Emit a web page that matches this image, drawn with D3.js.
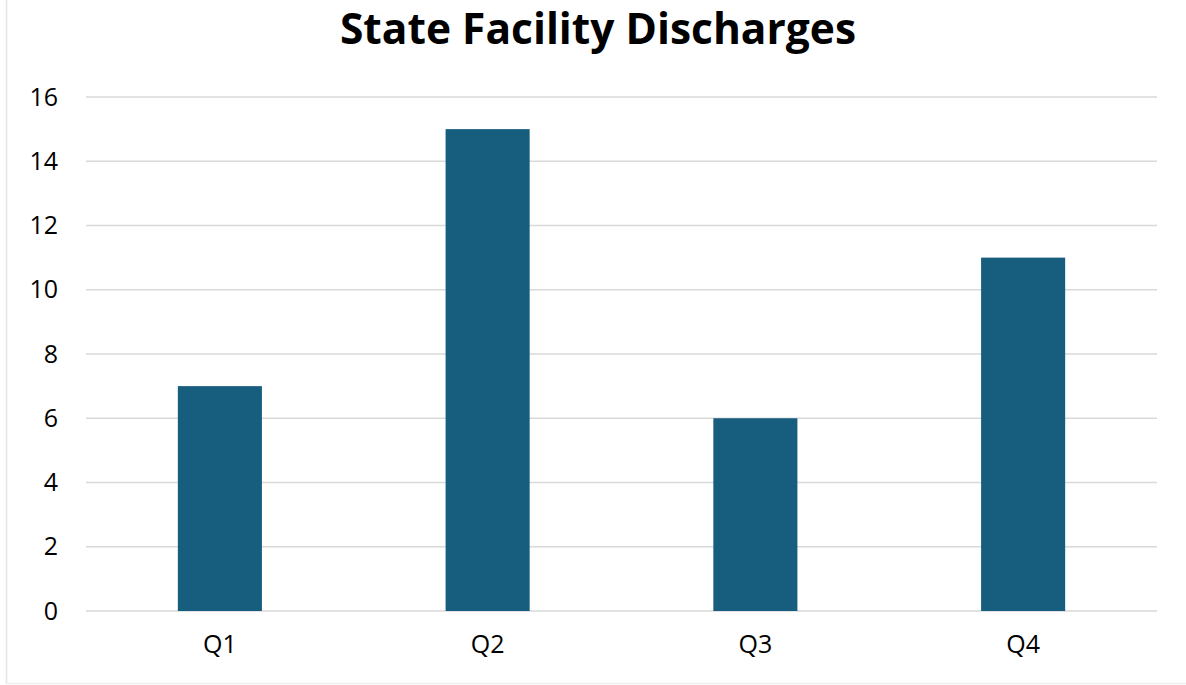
<!DOCTYPE html>
<html>
<head>
<meta charset="utf-8">
<script src="https://cdn.jsdelivr.net/npm/d3@7"></script>
<style>
  body { margin: 0; background: #fff; }
  text { font-family: "Open Sans", "Liberation Sans", Arial, sans-serif; }
</style>
</head>
<body>
<svg id="chart"></svg>
<script>
// Data
var quarters = ["Q1", "Q2", "Q3", "Q4"];
var discharges = [7, 15, 6, 11];
var yTicks = [0, 2, 4, 6, 8, 10, 12, 14, 16];
var chartTitle = "State Facility Discharges";

var W = 1186, H = 685;
var margin = {top: 97, right: 29, bottom: 74, left: 86};

var svg = d3.select("#chart")
            .attr("width", W)
            .attr("height", H);

// Frame lines on left and bottom
svg.append("line")
    .attr("x1", 6.5).attr("x2", 6.5).attr("y1", 0).attr("y2", 683)
    .attr("stroke", "#e4e4e4").attr("stroke-width", 1.5);
svg.append("line")
    .attr("x1", 6).attr("x2", W).attr("y1", 683.5).attr("y2", 683.5)
    .attr("stroke", "#eeeeee").attr("stroke-width", 1.5);

var g = svg.append("g")
           .attr("transform", "translate(" + margin.left + "," + margin.top + ")");

var width = W - margin.left - margin.right;
var height = H - margin.top - margin.bottom;

var xScale = d3.scaleBand()
               .domain(quarters)
               .range([0, width])
               .paddingInner(0.686)
               .paddingOuter(0.343);

var yScale = d3.scaleLinear()
               .domain([0, 16])
               .range([height, 0]);

// Gridlines
g.selectAll(".grid")
  .data(yTicks)
  .enter()
  .append("line")
  .attr("class", "grid")
  .attr("x1", 0)
  .attr("x2", width)
  .attr("y1", function(d) { return yScale(d); })
  .attr("y2", function(d) { return yScale(d); })
  .attr("stroke", "#d9d9d9")
  .attr("stroke-width", 1.5);

// Y axis labels
var yAxis = d3.axisLeft(yScale).tickValues(yTicks).tickSize(0).tickPadding(28);
g.append("g")
  .call(yAxis)
  .call(function(a) { a.select(".domain").remove(); })
  .selectAll("text")
  .attr("font-size", 25)
  .attr("font-family", "'Open Sans', sans-serif")
  .attr("fill", "#000");

// Bars
g.selectAll(".bar")
  .data(discharges)
  .enter()
  .append("rect")
  .attr("class", "bar")
  .attr("x", function(d, i) { return xScale(quarters[i]); })
  .attr("width", xScale.bandwidth())
  .attr("y", function(d) { return yScale(d); })
  .attr("height", function(d) { return height - yScale(d); })
  .attr("fill", "#175e7e");

// X axis labels
var xAxis = d3.axisBottom(xScale).tickSize(0).tickPadding(24);
g.append("g")
  .attr("transform", "translate(0," + height + ")")
  .call(xAxis)
  .call(function(a) { a.select(".domain").remove(); })
  .selectAll("text")
  .attr("font-size", 25)
  .attr("font-family", "'Open Sans', sans-serif")
  .attr("fill", "#000");

// Title
svg.append("text")
  .attr("x", 598)
  .attr("y", 44)
  .attr("text-anchor", "middle")
  .attr("font-size", 42.5)
  .attr("font-weight", "bold")
  .attr("fill", "#000")
  .text(chartTitle);
</script>
</body>
</html>
